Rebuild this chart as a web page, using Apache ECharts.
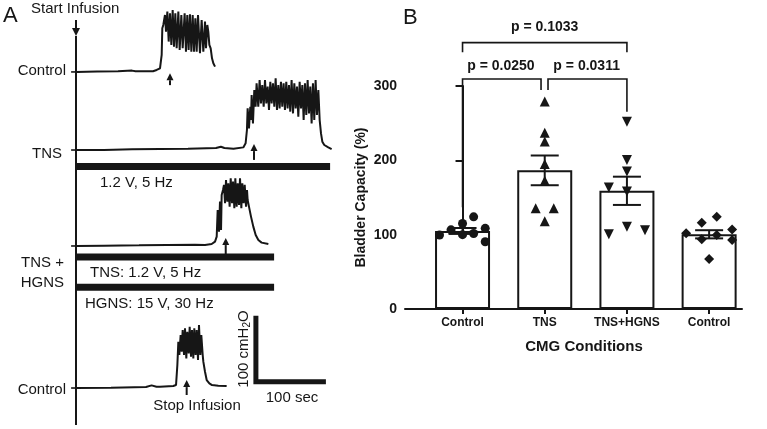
<!DOCTYPE html>
<html>
<head>
<meta charset="utf-8">
<script src="https://cdn.jsdelivr.net/npm/echarts@6.0.0/dist/echarts.min.js"></script>
<style>
  html, body { margin: 0; padding: 0; background: #fff; }
  #chart-container { width: 767px; height: 429px; }
</style>
</head>
<body>
<div id="chart-container"></div>
<script>
var dom = document.getElementById('chart-container');
var myChart = echarts.init(dom, null, { renderer: 'canvas' });

var ink = '#161616';
var fontName = 'Liberation Sans';

// ---------- panel A: CMG traces, [time (s), pressure (cmH2O)] ----------
var controlTrace = [
  [0, 0], [30, 0.5], [60, 1], [80, 2], [85, 1], [110, 1], [115.2, 3], [120, 5.5], [122.4, 25.7],
  [123.3, 66.1], [124.7, 71.2], [127.1, 86.3], [128.6, 61.1], [130.5, 91.4], [132.4, 46],
  [134.3, 88.9], [136.2, 40.9], [138.1, 93.9], [140, 38.4], [141.9, 88.9], [143.8, 35.8],
  [146.2, 91.4], [148.1, 33.3], [150.5, 86.3], [152.4, 35.8], [155.2, 88.9], [157.1, 30.8],
  [159, 86.3], [160.9, 33.3], [162.8, 87.4], [164.8, 30.8], [166.7, 86.3], [168.6, 30.8],
  [170.5, 81.3], [172.4, 30.8], [174.3, 86.3], [177.1, 28.3], [179.5, 78.8], [181.9, 30.8],
  [184.3, 76.2], [185.7, 35.8], [187.6, 71.2], [189, 61.1], [190.5, 40.9], [192.4, 35.8],
  [194.3, 20.7], [196.2, 13.1], [198.6, 8]
];
var tnsTrace = [
  [0, 0], [40, 0], [80, 1], [120, 1.5], [160, 2], [200, 3], [207, 5], [212, 3], [225, 2],
  [227.1, 1.5], [239, 4], [242.3, 10.1], [244.2, 30.3], [245.2, 63.1], [247.1, 32.8], [249, 65.6],
  [250, 45.4], [250.9, 83.3], [252.8, 40.4], [254.7, 90.9], [256.6, 65.6], [258, 101],
  [260.4, 65.6], [262.3, 106], [264.2, 70.7], [266.1, 98.5], [268.1, 65.6], [270, 106],
  [271.9, 70.7], [273.8, 96], [275.7, 60.6], [277.6, 103.5], [279.5, 70.7], [281.4, 101],
  [283.3, 65.6], [285.2, 108.6], [287.1, 60.6], [289, 98.5], [290.9, 63.1], [292.8, 103.5],
  [294.7, 65.6], [296.6, 101], [298.5, 60.6], [300.4, 103.5], [302.3, 63.1], [304.2, 98.5],
  [306.1, 58.1], [308, 106], [310, 55.5], [311.9, 101], [313.8, 63.1], [315.7, 96],
  [317.6, 50.5], [319.5, 103.5], [321.4, 63.1], [323.3, 98.5], [325.2, 45.4], [327.1, 101],
  [329, 53], [330.9, 106], [332.8, 55.5], [334.7, 96], [336.6, 40.4], [338.5, 101],
  [340.4, 45.4], [342.3, 106], [344.2, 53], [346.2, 90.9], [348.1, 45.4], [350, 25.2],
  [351.9, 12.6], [354.7, 7.6], [360.4, 4], [365.2, 1.5]
];
var hgnsTrace = [
  [0, 0], [40, 0.5], [90, 1], [130, 1.5], [170, 2], [184.3, 1.6], [193.8, 3], [198.6, 6.6],
  [201, 14.2], [202.4, 54.6], [204.3, 21.8], [205.7, 67.2], [207.2, 24.3], [208.1, 77.3],
  [210, 84.9], [211.4, 92.5], [212.9, 64.7], [214.3, 100], [216.2, 67.2], [217.6, 95],
  [219.5, 59.6], [221, 102.6], [222.9, 64.7], [224.3, 97.5], [226.2, 57.1], [227.6, 102.6],
  [229.5, 59.6], [231, 95], [232.9, 62.2], [234.3, 102.6], [236.2, 57.1], [237.6, 95],
  [239.5, 64.7], [241, 92.5], [242.9, 59.6], [244.3, 84.9], [245.2, 69.7], [247.1, 59.6],
  [250, 44.5], [253.3, 29.3], [256.7, 16.7], [260.5, 9.1], [265.2, 5.1], [274.8, 3]
];
var control2Trace = [
  [0, 0], [50, 0.5], [100, 1.5], [108, 4], [115, 2], [120, 2], [139, 3], [142.9, 4.5],
  [144.8, 34.8], [146.2, 70.2], [147.6, 50], [149.5, 80.3], [151, 55.1], [152.4, 87.9],
  [154.3, 50], [155.7, 90.4], [157.6, 44.9], [159, 85.3], [161, 52.5], [162.4, 92.9],
  [164.3, 47.5], [165.7, 87.9], [167.6, 44.9], [169, 90.4], [170.9, 50], [172.4, 87.9],
  [174.3, 42.4], [175.7, 95.4], [177.6, 50], [179, 80.3], [181, 50], [181.9, 39.9],
  [184.3, 24.7], [186.7, 12.1], [190.5, 7.1], [194.3, 4.5], [203.3, 3.5], [215.2, 3]
];
var stimEnd = [363, 283, 283];          // stimulation duration (s): TNS, TNS (combo), HGNS
var voidOnset = [134.3, 254.3, 213.9, 158.1]; // arrow times (s) per trace
var scaleSec = 100, scaleCm = 100;

// ---------- panel B: bladder capacity (%) ----------
var categories = ['Control', 'TNS', 'TNS+HGNS', 'Control'];
var capacityMean = [105, 186.5, 159, 100.5];
var capacitySem = [4, 20, 19, 5.5];
var controlPts = [99.5, 106.5, 115, 124, 108.5, 100, 101.5, 90.5];
var tnsPts = [279, 237, 225.5, 195, 172.5, 135.5, 135.5, 118];
var hgnsPts = [252, 200.5, 185, 163.5, 158, 100.5, 110.5, 106];
var control2Pts = [101.8, 116, 124, 93.8, 99.6, 107, 92.8, 67.3];
var yTicks = [0, 300, 100];
var pLabels = ['p = 0.1033', 'p = 0.0250', 'p = 0.0311'];

// ---------- layout ----------
var pxPerSec = 0.7, pxPerCm = 0.66;
var aXMin = -20, aXMax = 377, aYMax = 429 / pxPerCm;
var traceBase = [541, 422.7, 277.3, 62.1];
var stimLevel = [397.7, 260.6, 214.7];
var arrowTip = [-2, 9, 12, 12], arrowTail = [-20, -15, -13.6, -10.6];
var scaleCorner = [257, 71.7];
var jitter = [
  [-0.28, -0.14, 0, 0.135, 0.276, 0, 0.135, 0.276],
  [0, 0, 0, 0, 0, -0.11, 0.11, 0],
  [0, 0, 0, -0.22, 0, -0.22, 0, 0.22],
  [-0.28, -0.09, 0.093, -0.09, 0.093, 0.28, 0.28, 0]
];
// brackets: [from, to, level, leftLeg, rightLeg, labelX, labelY]
var brackets = [
  [0, 2, 358.3, 345.4, 345.4, 1, 379.7],
  [0, 0.955, 309.4, 137, 294.6, 0.467, 327.2],
  [1.04, 2, 309.4, 294.6, 265.5, 1.51, 327.2]
];

function seg(x1, y1, x2, y2, w) {
  return { type: 'line', shape: { x1: x1, y1: y1, x2: x2, y2: y2 },
    style: { stroke: ink, lineWidth: w || 2 } };
}
function arrow(x, yTail, yTip, head, half) {
  var dir = yTip > yTail ? 1 : -1;
  return [
    seg(x, yTail, x, yTip - dir * head, 2),
    { type: 'polygon', shape: { points: [[x, yTip], [x - half, yTip - dir * head], [x + half, yTip - dir * head]] },
      style: { fill: ink } }
  ];
}
function lift(trace, base) {
  return trace.map(function (d) { return [d[0], d[1] + base]; });
}

var traces = [controlTrace, tnsTrace, hgnsTrace, control2Trace];
var traceSeries = traces.map(function (tr, i) {
  return {
    type: 'line', xAxisIndex: 0, yAxisIndex: 0, data: lift(tr, traceBase[i]),
    showSymbol: false, clip: false, z: 5,
    lineStyle: { color: ink, width: 2 }
  };
});

var groups = [controlPts, tnsPts, hgnsPts, control2Pts];
var symbols = ['circle', 'triangle', 'triangle', 'diamond'];
var symbolSizes = [9, 10, 10, 10];
var rotates = [0, 0, 180, 0];
var scatterSeries = groups.map(function (pts, g) {
  return {
    type: 'scatter', xAxisIndex: 1, yAxisIndex: 1, z: 4,
    symbol: symbols[g], symbolSize: symbolSizes[g], symbolRotate: rotates[g],
    itemStyle: { color: ink, opacity: 1 },
    data: pts.map(function (v, k) { return [g + jitter[g][k], v]; })
  };
});

var option = {
  animation: false,
  textStyle: { fontFamily: fontName, color: ink },
  grid: [
    { left: 62, top: 0, width: (aXMax - aXMin) * pxPerSec, height: 429 },
    { left: 405, top: 86, width: 337, height: 223 }
  ],
  xAxis: [
    { gridIndex: 0, type: 'value', min: aXMin, max: aXMax, show: false },
    {
      gridIndex: 1, type: 'value', min: -0.7, max: 3.4,
      axisLine: { show: true, lineStyle: { color: ink, width: 2 } },
      axisTick: { show: true, customValues: [0, 1, 2, 3], length: 5, lineStyle: { color: ink, width: 2 } },
      axisLabel: {
        customValues: [0, 1, 2, 3], margin: 8, color: ink, fontWeight: 'bold', fontSize: 12,
        formatter: function (v) { return categories[Math.round(v)]; }
      },
      splitLine: { show: false }
    }
  ],
  yAxis: [
    { gridIndex: 0, type: 'value', min: 0, max: aYMax, show: false },
    {
      gridIndex: 1, type: 'value', min: yTicks[0], max: yTicks[1], interval: yTicks[2],
      name: 'Bladder Capacity (%)', nameLocation: 'middle', nameGap: 37,
      nameTextStyle: { fontWeight: 'bold', fontSize: 14, color: ink },
      axisLine: { show: true, lineStyle: { color: ink, width: 2 } },
      axisTick: { show: true, length: 7, lineStyle: { color: ink, width: 2 } },
      axisLabel: { margin: 8, color: ink, fontWeight: 'bold', fontSize: 14 },
      splitLine: { show: false }
    }
  ],
  series: traceSeries.concat([
    {
      // stimulation bars
      type: 'custom', xAxisIndex: 0, yAxisIndex: 0, clip: false, z: 3,
      data: stimEnd.map(function (e, i) { return [0, e, stimLevel[i]]; }),
      encode: { x: [0, 1], y: 2 },
      renderItem: function (params, api) {
        var a = api.coord([api.value(0), api.value(2)]);
        var b = api.coord([api.value(1), api.value(2)]);
        return { type: 'rect', shape: { x: a[0], y: a[1] - 3.5, width: b[0] - a[0], height: 7 },
          style: { fill: ink } };
      }
    },
    {
      // voiding onset arrows
      type: 'custom', xAxisIndex: 0, yAxisIndex: 0, clip: false, z: 3,
      data: voidOnset.map(function (t, i) {
        return [t, traceBase[i] + arrowTip[i], traceBase[i] + arrowTail[i]];
      }),
      encode: { x: 0, y: [1, 2] },
      renderItem: function (params, api) {
        var tip = api.coord([api.value(0), api.value(1)]);
        var tail = api.coord([api.value(0), api.value(2)]);
        return { type: 'group', children: arrow(tip[0], tail[1], tip[1], 7, 3.5) };
      }
    },
    {
      // infusion line, start arrow, label ticks, scale bar
      type: 'custom', xAxisIndex: 0, yAxisIndex: 0, clip: false, z: 3,
      data: [[0]],
      renderItem: function (params, api) {
        var top = api.coord([0, 595.5]), bot = api.coord([0, 6]);
        var ch = [seg(top[0], top[1], bot[0], bot[1], 2)];
        var st = api.coord([0, 619.7]);
        ch = ch.concat(arrow(st[0], st[1], top[1], 8, 4));
        traceBase.forEach(function (b) {
          var l = api.coord([-7, b]), r = api.coord([5.7, b]);
          ch.push(seg(l[0], l[1], r[0], r[1], 1.6));
        });
        var c = api.coord(scaleCorner);
        var up = api.coord([scaleCorner[0], scaleCorner[1] + scaleCm]);
        var rt = api.coord([scaleCorner[0] + scaleSec, scaleCorner[1]]);
        ch.push({ type: 'polyline', shape: { points: [up, c, rt] },
          style: { stroke: ink, lineWidth: 5, fill: null, lineJoin: 'miter' } });
        return { type: 'group', children: ch };
      }
    },
    {
      type: 'bar', xAxisIndex: 1, yAxisIndex: 1, z: 2, barWidth: 55,
      data: capacityMean.map(function (v, i) { return [i, v]; }),
      itemStyle: { color: '#fff', borderColor: ink, borderWidth: 2 }
    },
    {
      // mean +/- SEM
      type: 'custom', xAxisIndex: 1, yAxisIndex: 1, z: 3,
      data: capacityMean.map(function (v, i) { return [i, v, capacitySem[i]]; }),
      encode: { x: 0, y: 1 },
      renderItem: function (params, api) {
        var x = api.value(0), m = api.value(1), s = api.value(2);
        var t = api.coord([x, m + s]), b = api.coord([x, m - s]);
        return { type: 'group', children: [
          seg(t[0], t[1], b[0], b[1]),
          seg(t[0] - 14, t[1], t[0] + 14, t[1]),
          seg(b[0] - 14, b[1], b[0] + 14, b[1])
        ] };
      }
    },
    {
      // significance brackets
      type: 'custom', xAxisIndex: 1, yAxisIndex: 1, clip: false, z: 3,
      data: brackets,
      encode: { x: [0, 1], y: 2 },
      renderItem: function (params, api) {
        var f = api.value(0), t = api.value(1), lv = api.value(2);
        var pts = [api.coord([f, api.value(3)]), api.coord([f, lv]), api.coord([t, lv]), api.coord([t, api.value(4)])];
        var lp = api.coord([api.value(5), api.value(6)]);
        return { type: 'group', children: [
          { type: 'polyline', shape: { points: pts }, style: { stroke: ink, lineWidth: 1.6, fill: null } },
          { type: 'text', x: lp[0], y: lp[1], style: { text: pLabels[params.dataIndex], align: 'center',
            verticalAlign: 'middle', fontSize: 14, fontWeight: 'bold', fontFamily: fontName, fill: ink } }
        ] };
      }
    }
  ]).concat(scatterSeries),
  graphic: [
    { type: 'text', x: 3, y: 16, style: { text: 'A', fontSize: 22, fontFamily: fontName, fill: ink, verticalAlign: 'middle' } },
    { type: 'text', x: 403, y: 18, style: { text: 'B', fontSize: 22, fontFamily: fontName, fill: ink, verticalAlign: 'middle' } },
    { type: 'text', x: 31, y: 9, style: { text: 'Start Infusion', fontSize: 15, fontFamily: fontName, fill: ink, verticalAlign: 'middle' } },
    { type: 'text', x: 66, y: 71, style: { text: 'Control', fontSize: 15, fontFamily: fontName, fill: ink, align: 'right', verticalAlign: 'middle' } },
    { type: 'text', x: 62, y: 154, style: { text: 'TNS', fontSize: 15, fontFamily: fontName, fill: ink, align: 'right', verticalAlign: 'middle' } },
    { type: 'text', x: 64, y: 263, style: { text: 'TNS +', fontSize: 15, fontFamily: fontName, fill: ink, align: 'right', verticalAlign: 'middle' } },
    { type: 'text', x: 64, y: 283, style: { text: 'HGNS', fontSize: 15, fontFamily: fontName, fill: ink, align: 'right', verticalAlign: 'middle' } },
    { type: 'text', x: 66, y: 390, style: { text: 'Control', fontSize: 15, fontFamily: fontName, fill: ink, align: 'right', verticalAlign: 'middle' } },
    { type: 'text', x: 100, y: 183, style: { text: '1.2 V, 5 Hz', fontSize: 15, fontFamily: fontName, fill: ink, verticalAlign: 'middle' } },
    { type: 'text', x: 90, y: 273, style: { text: 'TNS: 1.2 V, 5 Hz', fontSize: 15, fontFamily: fontName, fill: ink, verticalAlign: 'middle' } },
    { type: 'text', x: 85, y: 304, style: { text: 'HGNS: 15 V, 30 Hz', fontSize: 15, fontFamily: fontName, fill: ink, verticalAlign: 'middle' } },
    { type: 'text', x: 292, y: 398, style: { text: '100 sec', fontSize: 15, fontFamily: fontName, fill: ink, align: 'center', verticalAlign: 'middle' } },
    { type: 'text', x: 197, y: 406, style: { text: 'Stop Infusion', fontSize: 15, fontFamily: fontName, fill: ink, align: 'center', verticalAlign: 'middle' } },
    { type: 'text', x: 244, y: 349, rotation: Math.PI / 2,
      style: { text: '100 cmH{s|2}O', fontSize: 15, fontFamily: fontName, fill: ink, align: 'center', verticalAlign: 'middle',
        rich: { s: { fontSize: 10, fontFamily: fontName, fill: ink, verticalAlign: 'bottom', padding: [6, 0, 0, 0] } } } },
    { type: 'text', x: 584, y: 347, style: { text: 'CMG Conditions', fontSize: 15, fontWeight: 'bold', fontFamily: fontName, fill: ink, align: 'center', verticalAlign: 'middle' } }
  ]
};

if (option && typeof option === 'object') {
  myChart.setOption(option);
}

window.addEventListener('resize', myChart.resize);
</script>
</body>
</html>
